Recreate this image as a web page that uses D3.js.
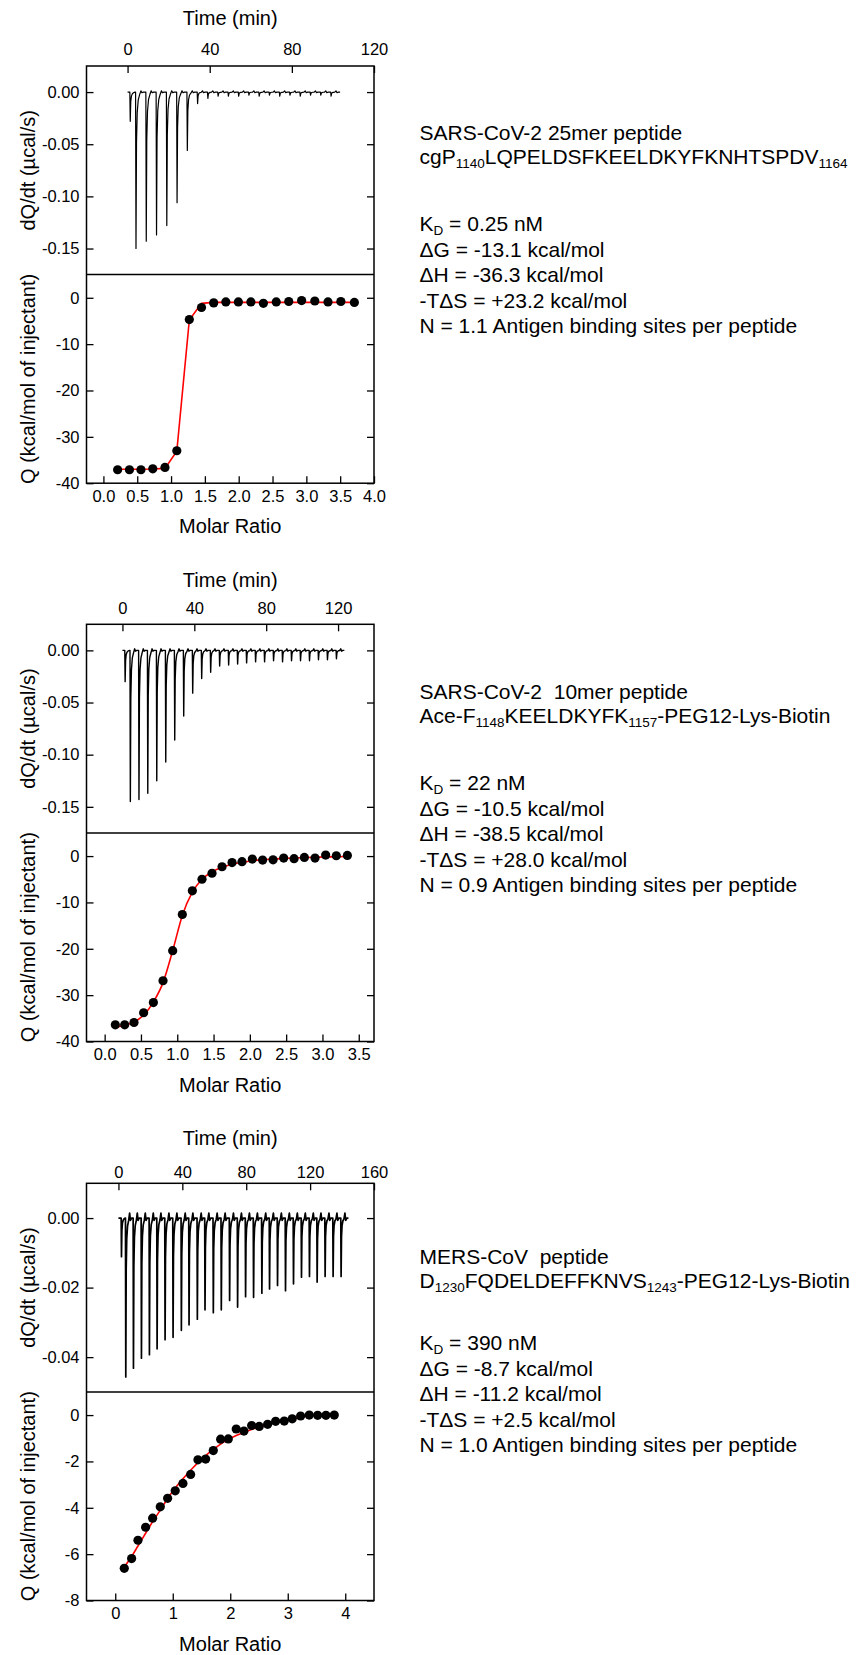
<!DOCTYPE html>
<html>
<head>
<meta charset="utf-8">
<script src="https://cdn.jsdelivr.net/npm/d3@7"></script>
<style>
  body { margin: 0; background: #fff; }
  svg text { font-family: "Liberation Sans", Arial, Helvetica, sans-serif; fill: #000; }
</style>
</head>
<body>
<script>
// ---------- panel 1 : SARS-CoV-2 25mer ----------
const injTime1 = [1.1, 3.9, 8.9, 13.9, 18.9, 23.9, 28.9, 33.9, 38.9, 43.9, 48.9, 53.9, 58.9, 63.9, 68.9, 73.9, 78.9, 83.9, 88.9, 93.9, 98.9];
const injPeak1 = [-0.028, -0.150, -0.143, -0.137, -0.128, -0.106, -0.056, -0.011, -0.006, -0.004, -0.004, -0.004, -0.003, -0.004, -0.003, -0.004, -0.003, -0.004, -0.003, -0.003, -0.004];
const ratio1 = [0.21, 0.385, 0.555, 0.73, 0.91, 1.085, 1.27, 1.45, 1.63, 1.81, 1.995, 2.18, 2.365, 2.555, 2.74, 2.93, 3.125, 3.32, 3.51, 3.71];
const heat1 = [-37.1, -37.1, -37.1, -36.9, -36.6, -33.0, -4.7, -2.1, -1.1, -0.9, -0.9, -0.9, -1.2, -0.9, -0.8, -0.6, -0.7, -0.9, -0.8, -1.0];
const fit1 = [-37.0, -37.0, -37.0, -36.95, -36.8, -33.1, -4.8, -1.2, -1.0, -1.0, -1.0, -1.0, -1.0, -1.0, -1.0, -1.0, -1.0, -1.0, -1.0, -1.0];
const timeTicks1 = [0, 40, 80, 120];
const rateTicks1 = [0, -0.05, -0.10, -0.15];
const ratioTicks1 = [0, 0.5, 1, 1.5, 2, 2.5, 3, 3.5, 4];
const heatTicks1 = [0, -10, -20, -30, -40];
const notes1 = [
  [["SARS-CoV-2 25mer peptide"]],
  [["cgP"], ["1140", "sub"], ["LQPELDSFKEELDKYFKNHTSPDV"], ["1164", "sub"]]
];
const stats1 = [
  [["K"], ["D", "sub"], [" = 0.25 nM"]],
  [["ΔG = -13.1 kcal/mol"]],
  [["ΔH = -36.3 kcal/mol"]],
  [["-TΔS = +23.2 kcal/mol"]],
  [["N = 1.1 Antigen binding sites per peptide"]]
];

// ---------- panel 2 : SARS-CoV-2 10mer ----------
const injTime2 = [1.3, 4.2, 9.0, 13.9, 18.9, 23.9, 28.9, 33.9, 38.9, 43.9, 48.9, 53.9, 58.9, 63.9, 68.9, 73.9, 78.9, 83.9, 88.9, 93.9, 98.9, 103.9, 108.9, 113.9, 118.9];
const injPeak2 = [-0.030, -0.145, -0.143, -0.137, -0.125, -0.107, -0.086, -0.063, -0.041, -0.027, -0.021, -0.015, -0.014, -0.013, -0.012, -0.011, -0.011, -0.010, -0.011, -0.010, -0.010, -0.010, -0.009, -0.009, -0.008];
const ratio2 = [0.147, 0.276, 0.404, 0.537, 0.671, 0.804, 0.937, 1.070, 1.208, 1.341, 1.479, 1.617, 1.755, 1.892, 2.034, 2.176, 2.320, 2.466, 2.609, 2.751, 2.898, 3.044, 3.191, 3.343];
const heat2 = [-36.4, -36.4, -35.9, -33.8, -31.6, -26.9, -20.4, -12.6, -7.5, -5.0, -3.7, -2.3, -1.4, -1.2, -0.65, -0.86, -0.8, -0.43, -0.57, -0.29, -0.43, 0.21, 0.07, 0.14];
const fit2 = [-36.9, -36.5, -35.8, -34.3, -31.5, -27.3, -20.4, -12.8, -7.8, -5.0, -3.4, -2.4, -1.8, -1.35, -1.0, -0.8, -0.65, -0.5, -0.4, -0.32, -0.25, -0.2, -0.15, -0.1];
const timeTicks2 = [0, 40, 80, 120];
const rateTicks2 = [0, -0.05, -0.10, -0.15];
const ratioTicks2 = [0, 0.5, 1, 1.5, 2, 2.5, 3, 3.5];
const heatTicks2 = [0, -10, -20, -30, -40];
const notes2 = [
  [["SARS-CoV-2  10mer peptide"]],
  [["Ace-F"], ["1148", "sub"], ["KEELDKYFK"], ["1157", "sub"], ["-PEG12-Lys-Biotin"]]
];
const stats2 = [
  [["K"], ["D", "sub"], [" = 22 nM"]],
  [["ΔG = -10.5 kcal/mol"]],
  [["ΔH = -38.5 kcal/mol"]],
  [["-TΔS = +28.0 kcal/mol"]],
  [["N = 0.9 Antigen binding sites per peptide"]]
];

// ---------- panel 3 : MERS-CoV ----------
const injTime3 = [1.7, 4.4, 9.2, 14.2, 19.2, 24.0, 29.0, 34.0, 39.2, 44.0, 49.2, 54.0, 59.2, 64.2, 69.4, 74.4, 79.4, 84.4, 89.6, 94.4, 99.4, 104.4, 109.4, 114.4, 119.4, 124.2, 129.2, 134.2, 139.2];
const injPeak3 = [-0.0111, -0.0457, -0.0432, -0.0403, -0.0393, -0.0376, -0.0350, -0.0343, -0.0323, -0.0307, -0.0291, -0.0264, -0.0272, -0.0264, -0.0237, -0.0256, -0.0226, -0.0228, -0.0216, -0.0204, -0.0194, -0.0209, -0.0189, -0.0170, -0.0168, -0.0184, -0.0168, -0.0168, -0.0168];
const ratio3 = [0.157, 0.285, 0.395, 0.528, 0.650, 0.783, 0.911, 1.043, 1.177, 1.311, 1.438, 1.572, 1.705, 1.833, 1.966, 2.104, 2.238, 2.372, 2.504, 2.650, 2.789, 2.939, 3.078, 3.224, 3.374, 3.520, 3.664, 3.809];
const heat3 = [-6.61, -6.19, -5.40, -4.84, -4.45, -3.96, -3.59, -3.27, -2.95, -2.56, -1.93, -1.90, -1.53, -1.04, -1.03, -0.60, -0.69, -0.45, -0.49, -0.40, -0.27, -0.26, -0.16, -0.04, 0.0, -0.01, -0.01, 0.0];
const fit3 = [-6.55, -6.1, -5.65, -5.1, -4.6, -4.1, -3.6, -3.15, -2.75, -2.38, -2.05, -1.75, -1.48, -1.25, -1.05, -0.88, -0.74, -0.62, -0.51, -0.41, -0.32, -0.24, -0.17, -0.1, -0.04, 0.0, 0.04, 0.07];
const timeTicks3 = [0, 40, 80, 120, 160];
const rateTicks3 = [0, -0.02, -0.04];
const ratioTicks3 = [0, 1, 2, 3, 4];
const heatTicks3 = [0, -2, -4, -6, -8];
const notes3 = [
  [["MERS-CoV  peptide"]],
  [["D"], ["1230", "sub"], ["FQDELDEFFKNVS"], ["1243", "sub"], ["-PEG12-Lys-Biotin"]]
];
const stats3 = [
  [["K"], ["D", "sub"], [" = 390 nM"]],
  [["ΔG = -8.7 kcal/mol"]],
  [["ΔH = -11.2 kcal/mol"]],
  [["-TΔS = +2.5 kcal/mol"]],
  [["N = 1.0 Antigen binding sites per peptide"]]
];

// shape of one injection peak (min after injection, fraction of peak depth, baseline bump)
const spikeT = [-0.3, 0, 0.2, 0.45, 0.8, 1.3, 2.0, 2.6, 3.1, 3.8];
const spikeF = [0, 0, 1, 0.32, 0.13, 0.05, 0.015, 0, 0, 0];
const spikeB = [0, 0, 0, 0, 0, 0, 0, 1, -0.5, 0];

const panels = [
  { top: 66, injTime: injTime1, injPeak: injPeak1, span: [0, 103.5], bump: 0.0012, traceW: 1.2,
    ratio: ratio1, heat: heat1, fit: fit1, curve: d3.curveLinear,
    timeDomain: [-20, 120], rateDomain: [-0.175, 0.025], ratioDomain: [-0.25, 4.0], heatDomain: [-40, 5],
    timeTicks: timeTicks1, rateTicks: rateTicks1, ratioTicks: ratioTicks1, heatTicks: heatTicks1,
    rateFmt: 2, ratioFmt: 1, topPad: 11, titleUp: 41, notes: notes1, stats: stats1, noteY: 74, statY: 165 },
  { top: 624.3, injTime: injTime2, injPeak: injPeak2, span: [0, 123.5], bump: 0.0015, traceW: 1.4,
    ratio: ratio2, heat: heat2, fit: fit2, curve: d3.curveMonotoneX,
    timeDomain: [-20, 140], rateDomain: [-0.175, 0.025], ratioDomain: [-0.25, 3.71], heatDomain: [-40, 5],
    timeTicks: timeTicks2, rateTicks: rateTicks2, ratioTicks: ratioTicks2, heatTicks: heatTicks2,
    rateFmt: 2, ratioFmt: 1, topPad: 10.5, titleUp: 37.5, notes: notes2, stats: stats2, noteY: 75, statY: 166 },
  { top: 1183.3, injTime: injTime3, injPeak: injPeak3, span: [0, 144], bump: 0.0014, traceW: 1.7,
    ratio: ratio3, heat: heat3, fit: fit3, curve: d3.curveMonotoneX,
    timeDomain: [-20, 160], rateDomain: [-0.05, 0.01], ratioDomain: [-0.5, 4.5], heatDomain: [-8, 1],
    timeTicks: timeTicks3, rateTicks: rateTicks3, ratioTicks: ratioTicks3, heatTicks: heatTicks3,
    rateFmt: 2, ratioFmt: 0, topPad: 5, titleUp: 38, notes: notes3, stats: stats3, noteY: 81, statY: 167 }
];

const LEFT = 86.5, PW = 287.5, SUBH = 208.6;
const TICK = 7, TICKFONT = 16.5, TITLEFONT = 20, NOTEFONT = 21, SUBFONT = 13.5;
const TEXTX = 419.5, LINEH = 25.5;

const svg = d3.select("body").append("svg")
  .attr("width", 864)
  .attr("height", 1655)
  .attr("viewBox", [0, 0, 864, 1655]);

svg.append("rect").attr("width", 864).attr("height", 1655).attr("fill", "#fff");

function styleAxis(sel) {
  sel.select(".domain").remove();
  sel.selectAll(".tick line").attr("stroke", "#000").attr("stroke-width", 1.3);
  sel.selectAll(".tick text").style("font-size", TICKFONT + "px").attr("fill", "#000");
}

function writeLine(g, y, segs) {
  const t = g.append("text").attr("x", TEXTX).attr("y", y).style("font-size", NOTEFONT + "px")
    .attr("xml:space", "preserve").style("white-space", "pre");
  let shifted = false;
  segs.forEach(([s, kind]) => {
    const sp = t.append("tspan").text(s);
    if (kind === "sub") {
      sp.style("font-size", SUBFONT + "px").attr("dy", shifted ? 0 : 4);
      shifted = true;
    } else if (shifted) {
      sp.attr("dy", -4);
      shifted = false;
    }
  });
}

function drawPanel(p) {
  const g = svg.append("g");
  const x0 = LEFT, x1 = LEFT + PW;
  const yTop = p.top, yMid = p.top + SUBH, yBot = p.top + 2 * SUBH;

  const xt = d3.scaleLinear().domain(p.timeDomain).range([x0, x1]);
  const yr = d3.scaleLinear().domain(p.rateDomain).range([yMid, yTop]);
  const xm = d3.scaleLinear().domain(p.ratioDomain).range([x0, x1]);
  const yq = d3.scaleLinear().domain(p.heatDomain).range([yBot, yMid]);

  // raw thermogram
  const pts = [[p.span[0], 0]];
  p.injTime.forEach((t, i) => {
    const limit = i + 1 < p.injTime.length ? p.injTime[i + 1] + spikeT[0] : p.span[1];
    spikeT.forEach((dt, k) => {
      if (t + dt < limit) pts.push([t + dt, p.injPeak[i] * spikeF[k] + p.bump * spikeB[k]]);
    });
  });
  pts.push([p.span[1], 0]);
  g.append("path")
    .attr("d", d3.line().x(d => xt(d[0])).y(d => yr(d[1]))(pts))
    .attr("fill", "none").attr("stroke", "#000").attr("stroke-width", p.traceW)
    .attr("stroke-linejoin", "round");

  // fitted curve and integrated heats
  g.append("path")
    .attr("d", d3.line().curve(p.curve).x((d, i) => xm(p.ratio[i])).y(d => yq(d))(p.fit))
    .attr("fill", "none").attr("stroke", "#ff0000").attr("stroke-width", 1.6);
  g.selectAll("circle").data(p.heat).join("circle")
    .attr("cx", (d, i) => xm(p.ratio[i])).attr("cy", d => yq(d)).attr("r", 4.6).attr("fill", "#000");

  // axes (ticks point inward)
  g.append("g").attr("transform", `translate(0,${yTop})`)
    .call(d3.axisTop(xt).tickValues(p.timeTicks).tickSize(-TICK).tickPadding(p.topPad).tickFormat(d3.format("d")))
    .call(styleAxis);
  g.append("g").attr("transform", `translate(${x0},0)`)
    .call(d3.axisLeft(yr).tickValues(p.rateTicks).tickSize(-TICK).tickPadding(7).tickFormat(d => d.toFixed(p.rateFmt)))
    .call(styleAxis);
  g.append("g").attr("transform", `translate(${x1},0)`)
    .call(d3.axisRight(yr).tickValues(p.rateTicks).tickSize(-TICK).tickFormat(""))
    .call(styleAxis);
  g.append("g").attr("transform", `translate(0,${yBot})`)
    .call(d3.axisBottom(xm).tickValues(p.ratioTicks).tickSize(-TICK).tickPadding(7).tickFormat(d => d.toFixed(p.ratioFmt)))
    .call(styleAxis);
  g.append("g").attr("transform", `translate(${x0},0)`)
    .call(d3.axisLeft(yq).tickValues(p.heatTicks).tickSize(-TICK).tickPadding(7).tickFormat(d => String(d)))
    .call(styleAxis);
  g.append("g").attr("transform", `translate(${x1},0)`)
    .call(d3.axisRight(yq).tickValues(p.heatTicks).tickSize(-TICK).tickFormat(""))
    .call(styleAxis);

  // frame
  g.append("rect").attr("x", x0).attr("y", yTop).attr("width", PW).attr("height", 2 * SUBH)
    .attr("fill", "none").attr("stroke", "#000").attr("stroke-width", 1.5);
  g.append("line").attr("x1", x0).attr("x2", x1).attr("y1", yMid).attr("y2", yMid)
    .attr("stroke", "#000").attr("stroke-width", 1.5);

  // axis titles
  g.append("text").attr("x", (x0 + x1) / 2).attr("y", yTop - p.titleUp)
    .attr("text-anchor", "middle").style("font-size", TITLEFONT + "px").text("Time (min)");
  g.append("text").attr("x", (x0 + x1) / 2).attr("y", yBot + 50)
    .attr("text-anchor", "middle").style("font-size", TITLEFONT + "px").text("Molar Ratio");
  g.append("text").attr("transform", `translate(35,${(yTop + yMid) / 2}) rotate(-90)`)
    .attr("text-anchor", "middle").style("font-size", TITLEFONT + "px").text("dQ/dt (µcal/s)");
  g.append("text").attr("transform", `translate(35,${(yMid + yBot) / 2}) rotate(-90)`)
    .attr("text-anchor", "middle").style("font-size", TITLEFONT + "px").text("Q (kcal/mol of injectant)");

  // annotation
  p.notes.forEach((segs, i) => writeLine(g, p.top + p.noteY + i * 23.5, segs));
  p.stats.forEach((segs, i) => writeLine(g, p.top + p.statY + i * LINEH, segs));
}

panels.forEach(drawPanel);
</script>
</body>
</html>
